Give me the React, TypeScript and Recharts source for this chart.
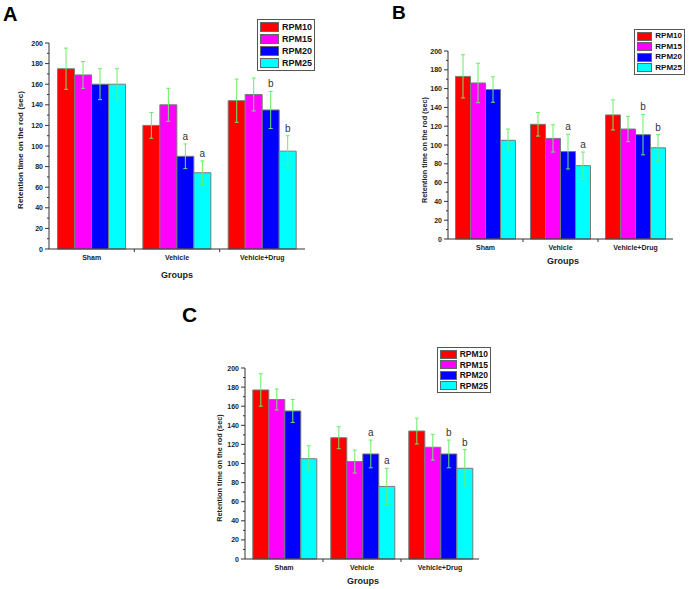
import React from 'react';
import { BarChart, Bar, XAxis, YAxis, ErrorBar, LabelList } from 'recharts';

const groups = ['Sham', 'Vehicle', 'Vehicle+Drug'];
const seriesNames = ['RPM10', 'RPM15', 'RPM20', 'RPM25'];
const seriesColors = ['#ff0000', '#ff00ff', '#0000ff', '#00ffff'];
const yTicks = [0, 10, 20, 30, 40, 50, 60, 70, 80, 90, 100, 110, 120, 130, 140, 150, 160, 170, 180, 190, 200];
const yLabel = 'Retention time on the rod (sec)';
const xLabel = 'Groups';

// panel A
const a10 = [175, 120, 144];
const a15 = [169, 140, 150];
const a20 = [160, 90, 135];
const a25 = [160, 74, 95];
const a10Err = [20, 12.5, 21];
const a15Err = [13, 16, 16];
const a20Err = [15, 12, 18];
const a25Err = [15, 11.5, 15];

// panel B
const b10 = [173, 122, 132];
const b15 = [166, 107, 117];
const b20 = [159, 93, 111];
const b25 = [105, 78, 97];
const b10Err = [23, 12.5, 16];
const b15Err = [21, 14.5, 13.5];
const b20Err = [13.5, 18.5, 21.5];
const b25Err = [12, 14.5, 14];

// panel C
const c10 = [177, 127, 134];
const c15 = [167, 102, 117];
const c20 = [155, 110, 110];
const c25 = [105, 76, 95];
const c10Err = [17, 11.5, 13.5];
const c15Err = [11, 12, 13.5];
const c20Err = [12, 14.5, 14.5];
const c25Err = [13.5, 19, 19.5];

// significance letters (RPM20, RPM25)
const tags20 = ['', 'a', 'b'];
const tags25 = ['', 'a', 'b'];
const tagsBySeries: (string[] | null)[] = [null, null, tags20, tags25];

type Row = Record<string, string | number>;

const makeRows = (means: number[][], errs: number[][]): Row[] =>
  groups.map((g, i) => {
    const row: Row = { group: g };
    seriesNames.forEach((s, k) => {
      row[s] = means[k][i];
      row[s + 'e'] = errs[k][i];
      const tags = tagsBySeries[k];
      if (tags) row[s + 't'] = tags[i];
    });
    return row;
  });

const rowsA = makeRows([a10, a15, a20, a25], [a10Err, a15Err, a20Err, a25Err]);
const rowsB = makeRows([b10, b15, b20, b25], [b10Err, b15Err, b20Err, b25Err]);
const rowsC = makeRows([c10, c15, c20, c25], [c10Err, c15Err, c20Err, c25Err]);

const axisColor = '#333';

interface PanelProps {
  rows: Row[];
  left: number;
  top: number;
  width: number;
  height: number;
  margin: { top: number; right: number; bottom: number; left: number };
}

const Panel: React.FC<PanelProps> = ({ rows, left, top, width, height, margin }) => {
  const plotW = width - margin.left - margin.right - 30;
  const bw = plotW / groups.length;

  // eslint-disable-next-line @typescript-eslint/no-explicit-any
  const yTick = (props: any) => {
    const { x, y, payload } = props;
    const major = payload.value % 20 === 0;
    return (
      <g>
        <line x1={x} x2={x - (major ? 4 : 2)} y1={y} y2={y} stroke={axisColor} strokeWidth={1} />
        {major && (
          <text x={x - 6} y={y} dy={2.5} textAnchor="end" fontSize={7} fontWeight="bold" fill="#222">
            {payload.value}
          </text>
        )}
      </g>
    );
  };

  // eslint-disable-next-line @typescript-eslint/no-explicit-any
  const xTick = (props: any) => {
    const { x, y, payload, index } = props;
    return (
      <g>
        {index < groups.length - 1 && (
          <line x1={x + bw / 2} x2={x + bw / 2} y1={y} y2={y + 3} stroke={axisColor} strokeWidth={1} />
        )}
        <text x={x} y={y} dy={11} textAnchor="middle" fontSize={7} fontWeight="bold" fill="#222">
          {payload.value}
        </text>
      </g>
    );
  };

  // eslint-disable-next-line @typescript-eslint/no-explicit-any
  const tagContent = (name: string) => (props: any) => {
    const vb = props.viewBox ?? props;
    const { x, y, width: w, height: h } = vb;
    const idx = props.index ?? 0;
    const letter = props.value;
    if (!letter) return null;
    const row = rows[idx];
    const mean = Number(row[name]);
    const err = Number(row[name + 'e']);
    const errPx = (err * h) / mean;
    return (
      <text x={x + w / 2} y={y - errPx - 4} textAnchor="middle" fontSize={10} fill="#333">
        {letter}
      </text>
    );
  };

  return (
    <div style={{ position: 'absolute', left, top }}>
      <BarChart width={width} height={height} data={rows} margin={margin} barCategoryGap="10%" barGap={0}>
        <XAxis
          dataKey="group"
          axisLine={{ stroke: axisColor }}
          tickLine={false}
          tickSize={0}
          tickMargin={0}
          height={30}
          interval={0}
          tick={xTick}
        />
        <YAxis
          domain={[0, 200]}
          ticks={yTicks}
          interval={0}
          width={30}
          axisLine={{ stroke: axisColor }}
          tickLine={false}
          tickSize={0}
          tickMargin={0}
          tick={yTick}
        />
        {seriesNames.map((s, k) => (
          <Bar key={s} dataKey={s} fill={seriesColors[k]} stroke="#7a7a7a" strokeWidth={1} isAnimationActive={false}>
            <ErrorBar dataKey={s + 'e'} width={2} stroke="#66ee66" strokeWidth={1} direction="y" />
            {tagsBySeries[k] && <LabelList dataKey={s + 't'} content={tagContent(s)} />}
          </Bar>
        ))}
      </BarChart>
    </div>
  );
};

const LegendBox: React.FC<{ left: number; top: number; width: number; height: number; fontSize: number; swW: number; swH: number }> = ({
  left, top, width, height, fontSize, swW, swH
}) => (
  <div
    style={{
      position: 'absolute', left, top, width, height, border: '1px solid #555', boxSizing: 'border-box',
      display: 'flex', flexDirection: 'column', justifyContent: 'space-around', padding: '1px 2px'
    }}
  >
    {seriesNames.map((n, k) => (
      <div key={n} style={{ display: 'flex', alignItems: 'center', height: swH + 2 }}>
        <span style={{ width: swW, height: swH, background: seriesColors[k], border: '1px solid #666', boxSizing: 'border-box', marginRight: 3 }} />
        <span style={{ fontWeight: 'bold', fontSize, color: '#111', lineHeight: 1 }}>{n}</span>
      </div>
    ))}
  </div>
);

const RotLabel: React.FC<{ cx: number; cy: number; fontSize: number }> = ({ cx, cy, fontSize }) => (
  <div
    style={{
      position: 'absolute', left: cx, top: cy, transform: 'translate(-50%, -50%) rotate(-90deg)',
      whiteSpace: 'nowrap', fontWeight: 'bold', fontSize, color: '#222', lineHeight: 1
    }}
  >
    {yLabel}
  </div>
);

const CenterLabel: React.FC<{ cx: number; cy: number; fontSize: number; text: string; bold?: boolean }> = ({ cx, cy, fontSize, text }) => (
  <div
    style={{
      position: 'absolute', left: cx, top: cy, transform: 'translate(-50%, -50%)',
      whiteSpace: 'nowrap', fontWeight: 'bold', fontSize, color: '#222', lineHeight: 1
    }}
  >
    {text}
  </div>
);

const PanelLetter: React.FC<{ left: number; top: number; size: number; text: string }> = ({ left, top, size, text }) => (
  <div style={{ position: 'absolute', left, top, fontSize: size, fontWeight: 'bold', lineHeight: 1, color: '#000' }}>{text}</div>
);

const App: React.FC = () => (
  <div
    style={{
      position: 'absolute', left: 0, top: 0, width: 689, height: 589, background: '#fff', overflow: 'hidden',
      fontFamily: 'Arial, "Liberation Sans", sans-serif'
    }}
  >
    <Panel rows={rowsA} left={0} top={0} width={320} height={285} margin={{ top: 43, right: 15, bottom: 6, left: 19 }} />
    <Panel rows={rowsB} left={340} top={0} width={349} height={285} margin={{ top: 51, right: 16, bottom: 16, left: 78 }} />
    <Panel rows={rowsC} left={180} top={290} width={330} height={299} margin={{ top: 78, right: 31, bottom: 0, left: 35 }} />

    <LegendBox left={257} top={19} width={58} height={52} fontSize={9} swW={20} swH={10} />
    <LegendBox left={634} top={29} width={51} height={46} fontSize={8} swW={18} swH={9} />
    <LegendBox left={437} top={347} width={54} height={46} fontSize={8.5} swW={19} swH={9} />

    <RotLabel cx={21} cy={150} fontSize={8} />
    <RotLabel cx={425} cy={150} fontSize={7.2} />
    <RotLabel cx={220} cy={468} fontSize={7.3} />

    <CenterLabel cx={177} cy={275} fontSize={9} text={xLabel} />
    <CenterLabel cx={563} cy={261} fontSize={9} text={xLabel} />
    <CenterLabel cx={363} cy={581} fontSize={9} text={xLabel} />

    <PanelLetter left={3} top={4} size={20} text="A" />
    <PanelLetter left={392} top={3} size={19} text="B" />
    <PanelLetter left={182} top={304} size={21} text="C" />
  </div>
);

export default App;
